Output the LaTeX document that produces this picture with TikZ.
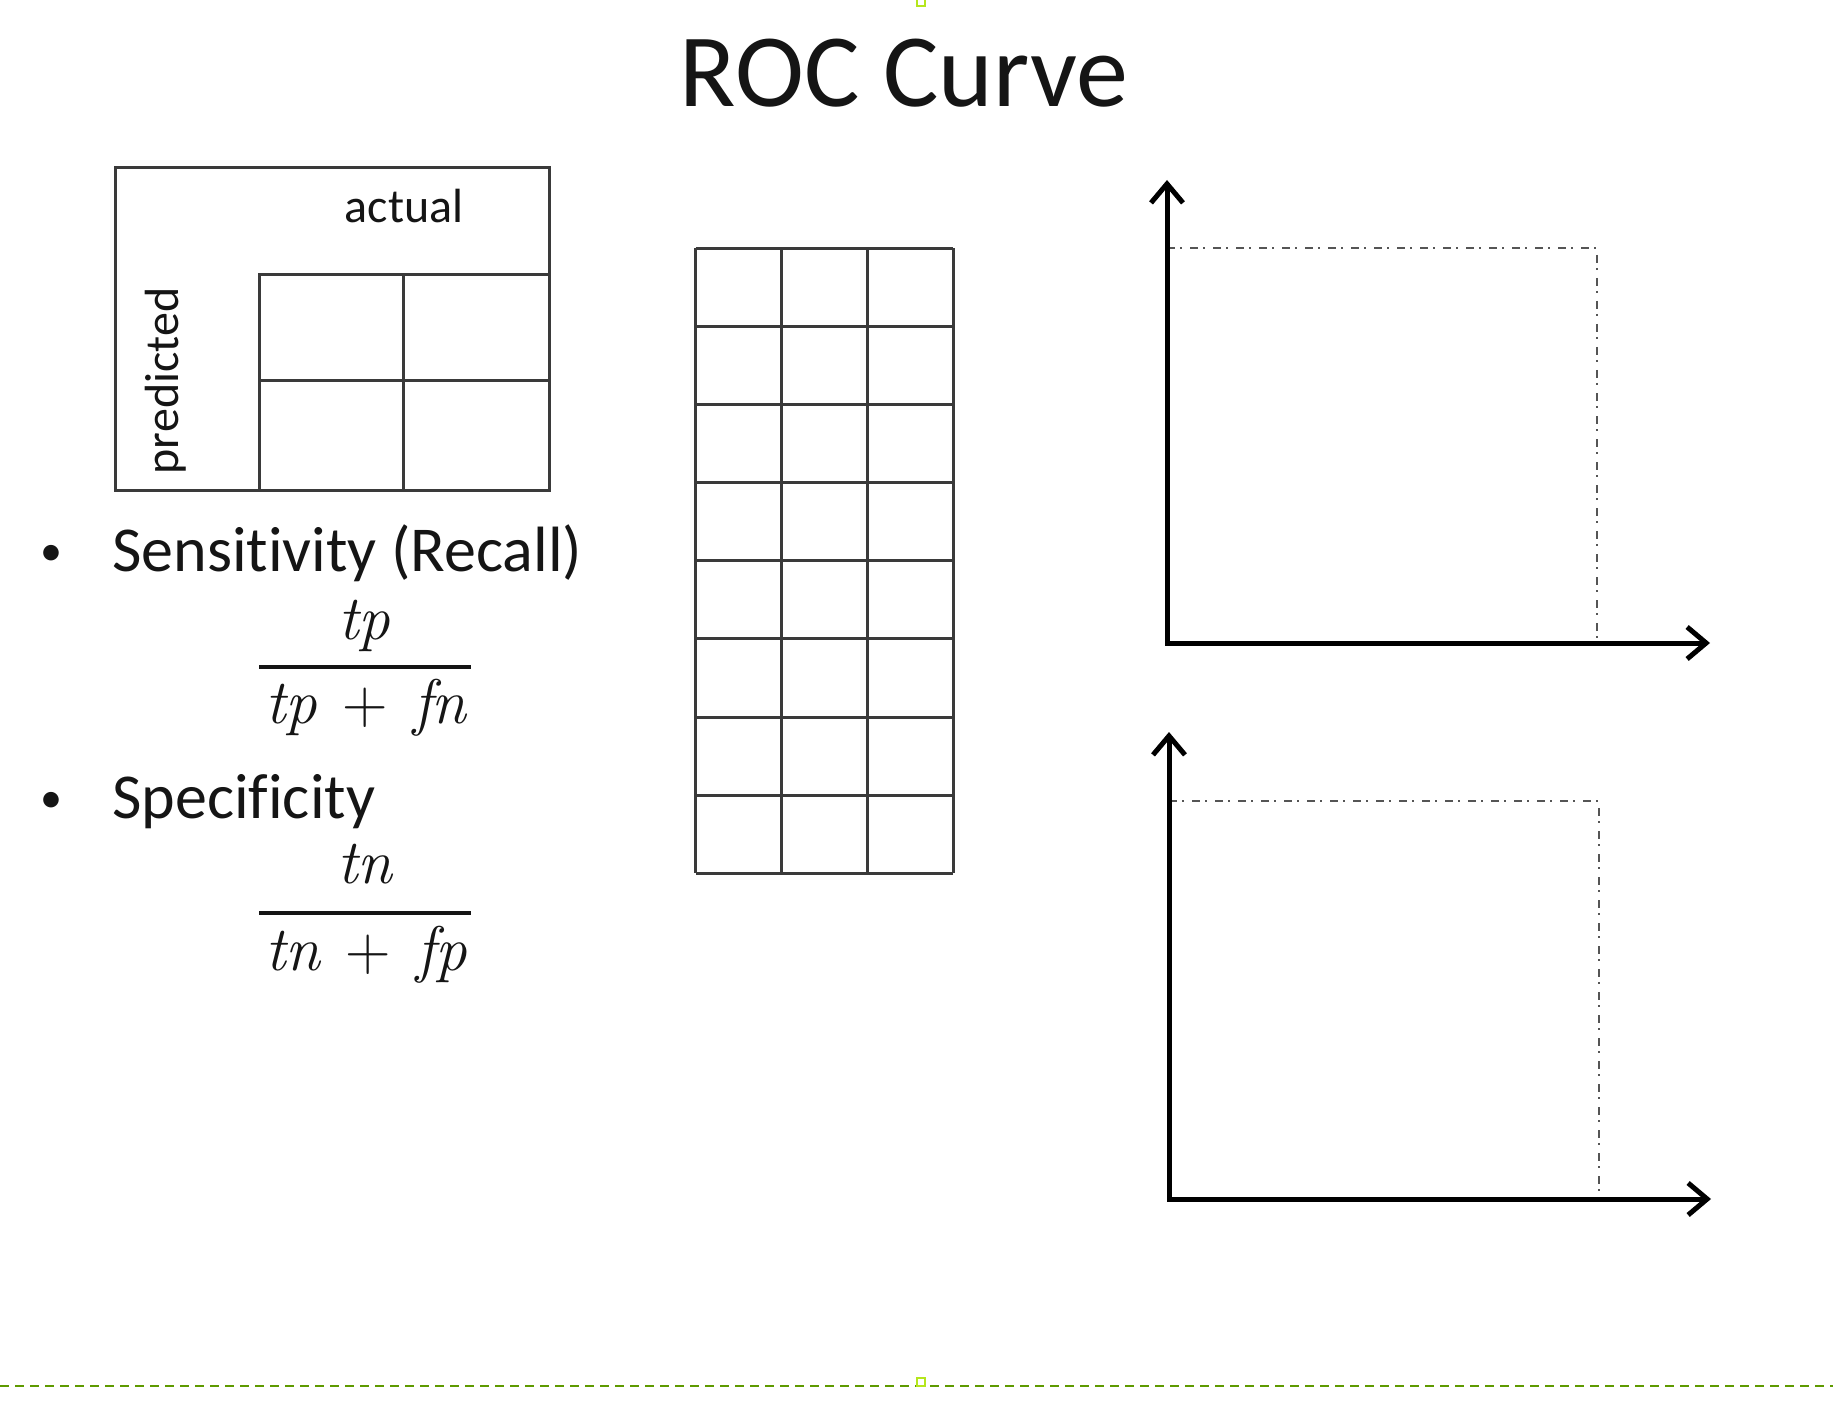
\documentclass[tikz,border=0pt]{standalone}
\usepackage{fontspec}
\setmainfont[Ligatures={NoCommon,NoContextual}]{Carlito}
\newfontfamily\formfont{Latin Modern Roman}
\usetikzlibrary{arrows.meta}
\definecolor{ink}{HTML}{151515}
\definecolor{gridc}{HTML}{3A3A3A}
\definecolor{ddc}{HTML}{555555}
\definecolor{olivegreen}{HTML}{5E9A00}
\definecolor{limeg}{HTML}{B5E61D}
\newcommand{\plusop}{\hspace{0.4em}{\upshape+}\hspace{0.4em}}
\begin{document}
\begin{tikzpicture}[x=1pt,y=-1pt,
  titletext/.style={font=\fontsize{104}{120}\selectfont, text=ink, inner sep=0, anchor=base},
  lbl/.style={font=\fontsize{48}{56}\selectfont, text=ink, inner sep=0, anchor=base},
  bul/.style={font=\fontsize{64}{76}\selectfont, text=ink, inner sep=0, anchor=base west},
  bulletdot/.style={font=\fontsize{44}{48}\selectfont, text=ink, inner sep=0, anchor=base},
  mth/.style={font=\formfont\itshape\fontsize{63}{72}\selectfont, text=ink, inner sep=0, anchor=base},
  cell/.style={draw=gridc, line width=3pt},
  fracbar/.style={draw=ink, line width=4pt},
  axisline/.style={draw=black, line width=5pt, line join=miter,
    {Straight Barb[length=19pt,width=32pt,line width=5pt]}-{Straight Barb[length=19pt,width=32pt,line width=5pt]}},
  ddash/.style={draw=ddc, line width=2pt, dash pattern=on 8pt off 5pt on 2pt off 8pt},
  marker/.style={draw=limeg, fill=white, line width=2pt, minimum size=8pt, inner sep=0},
]
\fill[white] (0,0) rectangle (1833,1412);
\useasboundingbox (0,0) rectangle (1833,1412);

% title
\node[titletext] (title) at (904,107) {ROC Curve};

% confusion matrix
\draw[cell] (115,168) rectangle (549,490);
\draw[cell] (259,275) rectangle (549,490);
\draw[cell] (403,275) -- (403,490);
\draw[cell] (259,380) -- (549,380);
\node[lbl] (actual) at (404,223) {actual};
\node[lbl, rotate=90] (pred) at (178,381) {predicted};

% bullets and formulas
\node[bulletdot] (b1) at (51,565) {•};
\node[bul] (sens) at (112,571) {Sensitivity (Recall)};
\node[mth] (n1) at (364,639) {tp};
\draw[fracbar] (259,667) -- (471,667);
\node[mth] (d1) at (366,723) {tp\plusop fn};

\node[bulletdot] (b2) at (51,812) {•};
\node[bul] (spec) at (112,818) {Specificity};
\node[mth] (n2) at (365,883) {tn};
\draw[fracbar] (259,913) -- (471,913);
\node[mth] (d2) at (366,970) {tn\plusop fp};

% middle grid
\foreach \i in {0,...,3} \draw[cell] ({695.7+\i*85.87},248.3) -- ++(0,625);
\foreach \j in {0,...,8} \draw[cell] (695.7,{248.3+\j*78.125}) -- ++(257.6,0);

% top plot
\coordinate (o1) at (1167,643);
\coordinate (ytip1) at (1167,180);
\coordinate (xtip1) at (1710,643);
\draw[ddash] (1167,248) -- (1597,248) -- (1597,643);
\draw[axisline] (ytip1) -- (o1) -- (xtip1);

% bottom plot
\coordinate (o2) at (1169,1199);
\coordinate (ytip2) at (1169,732);
\coordinate (xtip2) at (1711,1199);
\draw[ddash] (1169,801) -- (1599,801) -- (1599,1199);
\draw[axisline] (ytip2) -- (o2) -- (xtip2);

% green slide markers
\draw[olivegreen, line width=2pt, dash pattern=on 9pt off 6pt] (0,1386) -- (1833,1386);
\node[marker] (mktop) at (921,2) {};
\node[marker] (mkbot) at (921,1381.5) {};
\end{tikzpicture}
\end{document}
